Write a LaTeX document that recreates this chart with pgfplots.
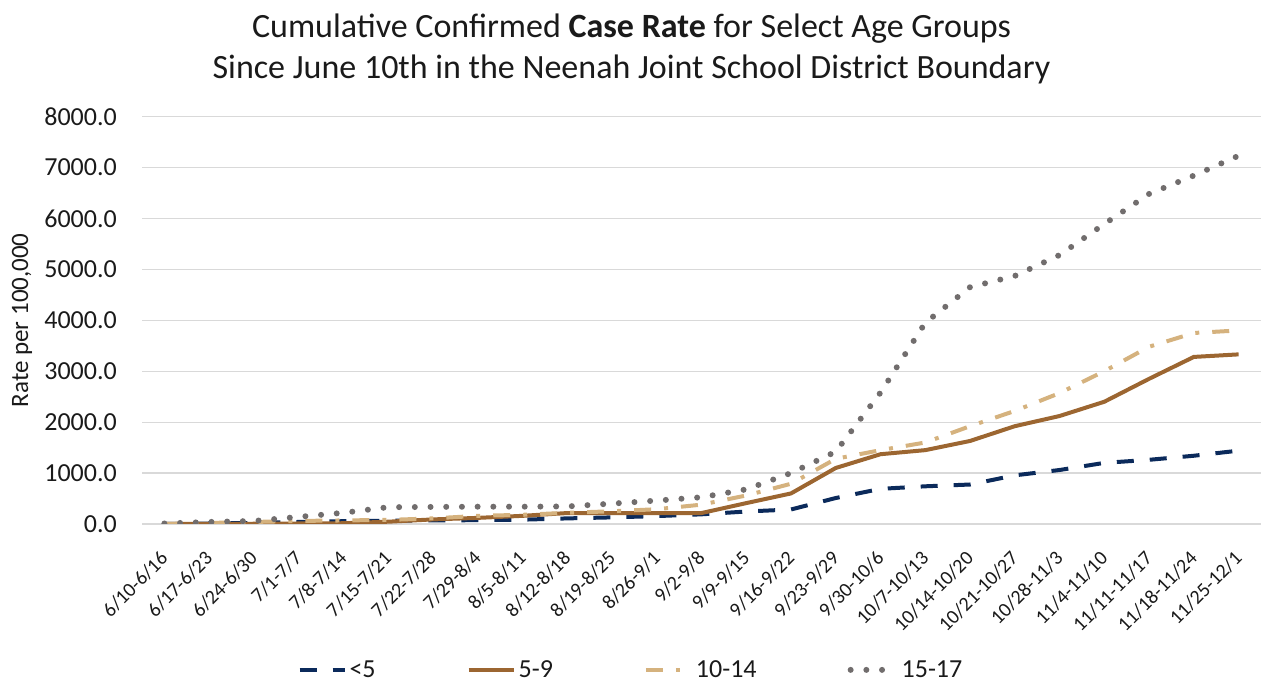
\documentclass[border=0pt]{standalone}
\usepackage{fontspec}
\setmainfont{Carlito}
\usepackage{pgfplots}
\pgfplotsset{compat=1.18}
\definecolor{navy}{HTML}{0B2A5B}
\definecolor{brownA}{HTML}{9C6631}
\definecolor{tanA}{HTML}{D5B27E}
\definecolor{grayA}{HTML}{716D6D}
\definecolor{gridc}{HTML}{D9D9D9}
\definecolor{txt}{HTML}{1A1A1A}
\begin{document}
\begin{tikzpicture}[x=1pt,y=1pt]
\path[use as bounding box] (0,0) rectangle (1263,685);
\begin{axis}[
  at={(142pt,161pt)}, anchor=south west,
  width=1119pt, height=407.5pt, scale only axis,
  xmin=-0.5, xmax=24.5, ymin=0, ymax=8000,
  xtick={0,...,24},
  xticklabels={6/10-6/16,6/17-6/23,6/24-6/30,7/1-7/7,7/8-7/14,7/15-7/21,7/22-7/28,7/29-8/4,8/5-8/11,8/12-8/18,8/19-8/25,8/26-9/1,9/2-9/8,9/9-9/15,9/16-9/22,9/23-9/29,9/30-10/6,10/7-10/13,10/14-10/20,10/21-10/27,10/28-11/3,11/4-11/10,11/11-11/17,11/18-11/24,11/25-12/1},
  ytick={0,1000,2000,3000,4000,5000,6000,7000,8000},
  yticklabels={0.0,1000.0,2000.0,3000.0,4000.0,5000.0,6000.0,7000.0,8000.0},
  axis line style={draw=none},
  ymajorgrids, major grid style={gridc, line width=1.2pt},
  major tick length=0pt,
  yticklabel style={font=\fontsize{26}{30}\selectfont, inner sep=0pt, anchor=east, text=txt},
  yticklabel shift=25pt,
  xticklabel style={font=\fontsize{20}{24}\selectfont, inner sep=0pt, rotate=45, anchor=east, text=txt},
  xticklabel shift=31pt,
  ylabel={Rate per 100,000},
  every axis y label/.style={at={(axis description cs:-0.1072,0.5)}, rotate=90, anchor=center, font=\fontsize{25}{30}\selectfont, text=txt},
  legend columns=4,
  legend style={at={(axis description cs:0.4374,-0.358)}, anchor=center, draw=none, fill=none,
    font=\fontsize{26}{30}\selectfont, text=txt,
    /tikz/every even column/.append style={column sep=88pt},
    nodes={inner sep=3pt}},
  legend image code/.code={\draw[#1] (0pt,0pt) -- (45pt,0pt);},
]
\addplot[navy, line width=4pt, dash pattern=on 17pt off 16pt] coordinates {
(0,0) (1,10) (2,20) (3,40) (4,55) (5,65) (6,70) (7,75) (8,85) (9,110) (10,130) (11,155) (12,190) (13,245) (14,285) (15,510) (16,690) (17,740) (18,775) (19,955) (20,1060) (21,1200) (22,1260) (23,1340) (24,1440)};
\addlegendentry{<5}
\addplot[brownA, line width=4pt] coordinates {
(0,0) (1,0) (2,5) (3,10) (4,15) (5,45) (6,90) (7,120) (8,160) (9,215) (10,215) (11,215) (12,215) (13,410) (14,600) (15,1100) (16,1370) (17,1450) (18,1630) (19,1920) (20,2120) (21,2400) (22,2850) (23,3280) (24,3330)};
\addlegendentry{5-9}
\addplot[tanA, line width=4pt, dash pattern=on 17pt off 13pt on 4pt off 13pt] coordinates {
(0,0) (1,20) (2,40) (3,60) (4,70) (5,80) (6,110) (7,160) (8,180) (9,220) (10,250) (11,290) (12,380) (13,560) (14,790) (15,1280) (16,1450) (17,1600) (18,1920) (19,2220) (20,2570) (21,3000) (22,3480) (23,3750) (24,3800)};
\addlegendentry{10-14}
\addplot[grayA, line width=6pt, line cap=round, dash pattern=on 0pt off 15.7pt] coordinates {
(0,10) (1,40) (2,60) (3,140) (4,220) (5,330) (6,335) (7,340) (8,340) (9,345) (10,400) (11,460) (12,525) (13,680) (14,1000) (15,1420) (16,2580) (17,3950) (18,4650) (19,4870) (20,5280) (21,5890) (22,6480) (23,6840) (24,7230)};
\addlegendentry{15-17}
\end{axis}
\node[anchor=base, font=\fontsize{34}{41}\selectfont, text=txt] at (631.5,647) {Cumulative Confirmed \textbf{Case Rate} for Select Age Groups};
\node[anchor=base, font=\fontsize{34}{41}\selectfont, text=txt] at (631.5,606) {Since June 10th in the Neenah Joint School District Boundary};
\end{tikzpicture}
\end{document}
